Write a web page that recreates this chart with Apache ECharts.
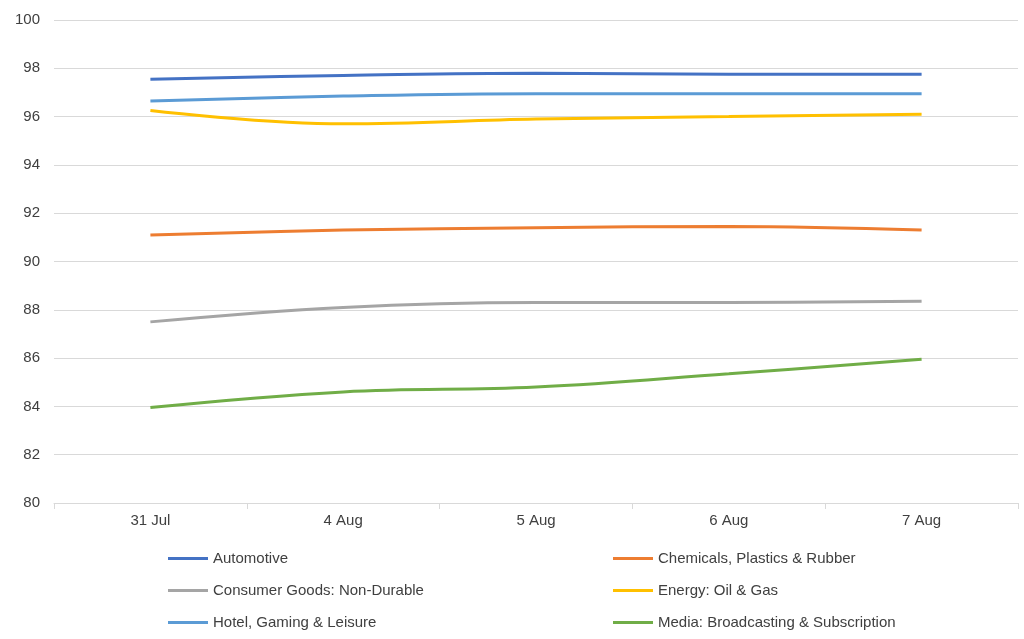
<!DOCTYPE html>
<html>
<head>
<meta charset="utf-8">
<script src="https://cdn.jsdelivr.net/npm/echarts@6/dist/echarts.min.js"></script>
</head>
<body style="margin:0">
<div id="main" style="width:1024px;height:639px;"></div>
<script>
var categories = ['31 Jul', '4 Aug', '5 Aug', '6 Aug', '7 Aug'];
var names = ['Automotive', 'Chemicals, Plastics & Rubber', 'Consumer Goods: Non-Durable',
             'Energy: Oil & Gas', 'Hotel, Gaming & Leisure', 'Media: Broadcasting & Subscription'];
var automotive = [97.55, 97.7, 97.8, 97.75, 97.75];
var chemicals = [91.1, 91.3, 91.4, 91.45, 91.3];
var consumer = [87.5, 88.1, 88.3, 88.3, 88.35];
var energy = [96.25, 95.7, 95.9, 96.0, 96.1];
var hotel = [96.65, 96.85, 96.95, 96.95, 96.95];
var media = [83.95, 84.6, 84.8, 85.35, 85.95];
var colors = ['#4472C4', '#ED7D31', '#A5A5A5', '#FFC000', '#5B9BD5', '#70AD47'];
var values = [automotive, chemicals, consumer, energy, hotel, media];

var chart = echarts.init(document.getElementById('main'));
var legendBase = {
    orient: 'vertical', top: 546, itemWidth: 40, itemHeight: 3, itemGap: 17,
    icon: 'rect', textStyle: { fontFamily: 'Liberation Sans', fontSize: 15, color: '#404040' }
};
chart.setOption({
    animation: false,
    color: colors,
    grid: { left: 54, right: 6, top: 20, bottom: 136 },
    legend: [
        Object.assign({ left: 163, data: [names[0], names[2], names[4]] }, legendBase),
        Object.assign({ left: 608, data: [names[1], names[3], names[5]] }, legendBase)
    ],
    xAxis: {
        type: 'category', data: categories, boundaryGap: true,
        axisLine: { lineStyle: { color: '#d9d9d9' } },
        axisTick: { show: true, length: 6, lineStyle: { color: '#d9d9d9' } },
        axisLabel: { color: '#404040', fontSize: 15, fontFamily: 'Liberation Sans', margin: 10 }
    },
    yAxis: {
        type: 'value', min: 80, max: 100, interval: 2,
        axisLine: { show: false }, axisTick: { show: false },
        splitLine: { lineStyle: { color: '#d9d9d9' } },
        axisLabel: { color: '#404040', fontSize: 15, fontFamily: 'Liberation Sans', margin: 14 }
    },
    series: names.map(function (n, i) {
        return { name: n, type: 'line', data: values[i], smooth: 0.4, symbol: 'none',
                 lineStyle: { width: 3, color: colors[i] } };
    })
});
</script>
</body>
</html>
